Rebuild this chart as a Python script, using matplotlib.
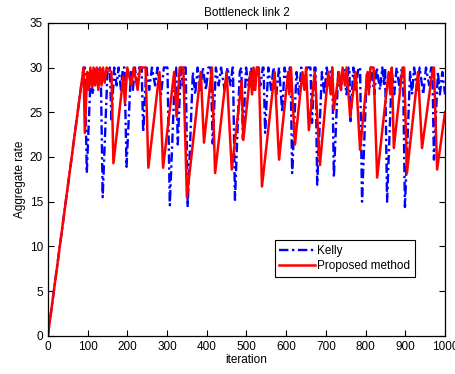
import matplotlib
matplotlib.use("Agg")
import matplotlib.pyplot as plt

# vertices (iteration, aggregate rate)
kelly_iter = [0, 90, 93, 98, 108, 113, 118, 124, 129, 133, 138, 150, 156, 160, 167,
              173, 178, 184, 189, 193, 198, 209, 214, 219, 225, 230, 236, 240, 248,
              255, 262, 270, 276, 285, 292, 301, 307, 320, 323, 327, 335, 340, 344,
              347, 352, 365, 371, 377, 384, 390, 398, 404, 410, 415, 423, 430, 436,
              445, 452, 460, 465, 466, 471, 483, 487, 491, 499, 505, 512, 520, 527,
              535, 541, 543, 547, 555, 562, 568, 575, 582, 590, 596, 604, 609, 611,
              615, 626, 632, 638, 646, 652, 661, 665, 671, 674, 678, 690, 696, 702,
              709, 713, 716, 720, 731, 738, 744, 752, 757, 759, 762, 769, 775, 782,
              786, 791, 803, 809, 814, 822, 828, 836, 842, 846, 849, 854, 866, 872,
              878, 886, 891, 894, 899, 912, 917, 922, 930, 936, 945, 952, 960, 965,
              968, 972, 982, 987, 993, 1000]
kelly_rate = [0, 30, 30, 18.2, 29.5, 27, 30, 28, 30, 30, 15.5, 29.5, 30, 24, 30,
              28, 30, 27.5, 30, 30, 18.9, 29.5, 27.5, 30, 28, 30, 30, 22.8, 30,
              27.5, 30, 28, 30, 27, 30, 30, 14.6, 29.5, 30, 21.4, 30, 28, 30,
              30, 14.4, 29.5, 27, 30, 27.5, 30, 27.5, 30, 30, 21.5, 30, 28, 30,
              27.5, 30, 28, 30, 30, 15.2, 29.5, 30, 22, 30, 28, 30, 27.5, 30,
              28, 30, 30, 22.7, 30, 27.5, 30, 27, 30, 25, 30, 28, 30, 30,
              18.2, 29.5, 27, 30, 27.5, 30, 30, 23.8, 30, 30, 16.9, 29.5, 27, 30,
              28, 30, 30, 17.7, 29.5, 27.5, 30, 27, 30, 30, 24, 30, 27.5, 30,
              30, 15, 29.5, 27.5, 30, 27, 30, 27.5, 30, 28, 30, 15, 29.5, 27,
              30, 27.5, 30, 30, 14.4, 29.5, 27, 30, 27.5, 30, 27, 30, 28, 30,
              30, 19.7, 29.5, 27, 29.5, 27]

prop_iter = [0, 90, 93, 99, 103, 107, 111, 115, 119, 123, 127, 131, 135, 139, 143, 148,
             160, 165, 190, 194, 200, 210, 216, 226, 232, 246, 253, 281, 290, 318,
             324, 332, 341, 350, 385, 393, 413, 421, 450, 463, 488, 492, 510, 514,
             518, 522, 526, 531, 539, 571, 582, 605, 608, 612, 622, 641, 646, 650,
             657, 672, 685, 706, 712, 716, 720, 733, 738, 742, 748, 752, 761, 775,
             786, 805, 808, 812, 820, 829, 858, 862, 866, 871, 893, 897, 904, 932,
             942, 968, 972, 980, 1000]
prop_rate = [0, 30, 22.7, 29.5, 27.5, 30, 27.8, 30, 28, 30, 27.5, 30, 28, 30, 28.3, 30,
             29.5, 19.3, 29, 26, 30, 28, 30, 27.5, 30, 30, 18.8, 29.5, 18.8, 29.5,
             24.5, 30, 30, 15.5, 29.5, 21.6, 30, 18.2, 29.5, 18.6, 28.5, 21.9, 29.5, 27,
             30, 27.5, 30, 30, 16.7, 29.5, 19.7, 29.5, 27, 30, 21.4, 29.5, 27.5, 30,
             23, 29.5, 19.1, 29.5, 27, 30, 25.3, 29.5, 27.5, 30, 28, 30, 24.5, 29.5,
             20.8, 29.5, 27, 30, 30, 17.7, 29.5, 27, 30, 21, 30, 30, 18.2, 29.5,
             21, 29.5, 30, 18.6, 25]

plt.rcParams["font.family"] = ["Liberation Sans", "DejaVu Sans"]

fig = plt.figure(figsize=(4.56, 3.74), dpi=100)
ax = fig.add_axes([0.105, 0.102, 0.871, 0.837])

ax.plot(kelly_iter, kelly_rate, color=(0, 0, 1), ls=(0, (4, 1.5, 1, 1.5)), lw=1.7,
        label="Kelly")
ax.plot(prop_iter, prop_rate, color=(1, 0, 0), ls="-", lw=1.8, label="Proposed method")

ax.set_xlim(0, 1000)
ax.set_ylim(0, 35)
ax.set_xticks(range(0, 1001, 100))
ax.set_yticks(range(0, 36, 5))
ax.tick_params(direction="in", top=True, right=True, labelsize=8.5, length=4, width=0.8)
for s in ax.spines.values():
    s.set_linewidth(0.9)

ax.set_title("Bottleneck link 2", fontsize=8.5, pad=5)
ax.set_xlabel("iteration", fontsize=8.5, labelpad=1)
ax.set_ylabel("Aggregate rate", fontsize=8.5, labelpad=3)

leg = ax.legend(loc="lower right", bbox_to_anchor=(0.924, 0.188), fontsize=8.5,
                fancybox=False, framealpha=1, edgecolor="black", handlelength=3,
                borderaxespad=0, handletextpad=0.2, labelspacing=0.3)
leg.get_frame().set_linewidth(0.8)

fig.savefig("out.png", dpi=100)
